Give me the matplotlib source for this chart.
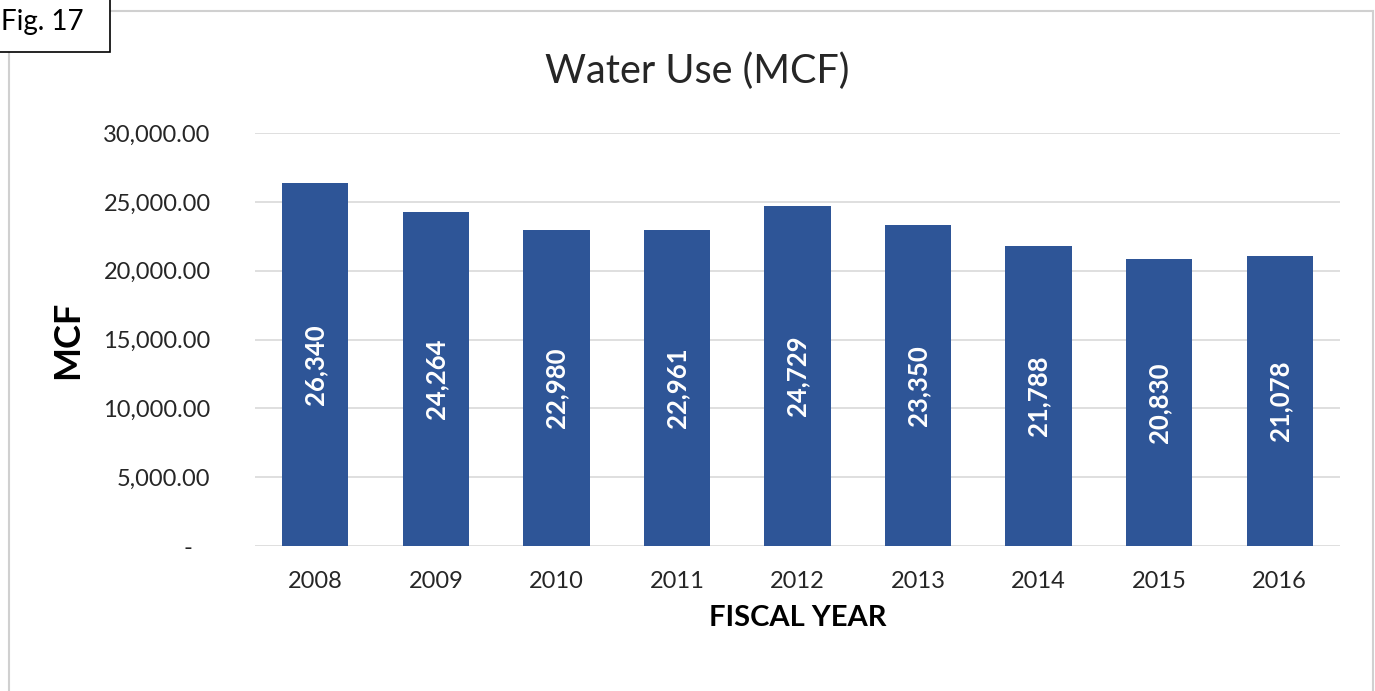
import matplotlib.pyplot as plt
import matplotlib.ticker as ticker
from matplotlib.patches import Rectangle

years = ['2008', '2009', '2010', '2011', '2012', '2013', '2014', '2015', '2016']
water_use = [26340, 24264, 22980, 22961, 24729, 23350, 21788, 20830, 21078]
y_ticks = [0, 5000, 10000, 15000, 20000, 25000, 30000]

plt.rcParams['font.family'] = ['Lato', 'DejaVu Sans']

bar_color = '#2E5597'
grid_color = '#D9D9D9'

fig = plt.figure(figsize=(13.75, 6.91), dpi=100)
ax = fig.add_axes([0.1855, 0.2098, 0.789, 0.5977])

x = range(len(years))
bars = ax.bar(x, water_use, width=0.55, color=bar_color, zorder=3)

# value labels, white and rotated, centred in each bar
for xi, v in zip(x, water_use):
    ax.text(xi, v / 2, f'{v:,}', rotation=90, ha='center', va='center',
            color='white', fontsize=18.5, fontweight='bold', zorder=4)

ax.set_xlim(-0.5, len(years) - 0.5)
ax.set_ylim(0, 30000)
ax.set_xticks(list(x))
ax.set_xticklabels(years)
ax.set_yticks(y_ticks)


def fmt(v, pos):
    if v == 0:
        return '-   '
    return f'{v:,.2f}'


ax.yaxis.set_major_formatter(ticker.FuncFormatter(fmt))
ax.tick_params(axis='both', length=0, labelsize=17, colors='#262626')
ax.tick_params(axis='y', pad=32)
ax.tick_params(axis='x', pad=18)
ax.grid(axis='y', color=grid_color, linewidth=1.2, zorder=0)
for s in ax.spines.values():
    s.set_visible(False)

ax.set_xlabel('FISCAL YEAR', fontsize=21, fontweight='bold', labelpad=9)
ax.set_ylabel('MCF', fontsize=26, fontweight='bold', labelpad=14)
fig.text(0.507, 0.897, 'Water Use (MCF)', ha='center', va='center', fontsize=28.5,
         color='#262626')

# chart frame and the figure tag in the corner
fig.add_artist(Rectangle((9 / 1375, -0.05), 1364 / 1375, 1 - 11 / 691 + 0.05,
                         transform=fig.transFigure, fill=False,
                         edgecolor='#D0D0D0', linewidth=1.5))
fig.add_artist(Rectangle((-0.01, 1 - 52 / 691), 110 / 1375 + 0.01, 0.1,
                         transform=fig.transFigure, facecolor='white',
                         edgecolor='black', linewidth=1.2))
fig.text(0.001, 1 - 22 / 691, 'Fig. 17', ha='left', va='center', fontsize=20)

fig.savefig('out.png', dpi=100)
